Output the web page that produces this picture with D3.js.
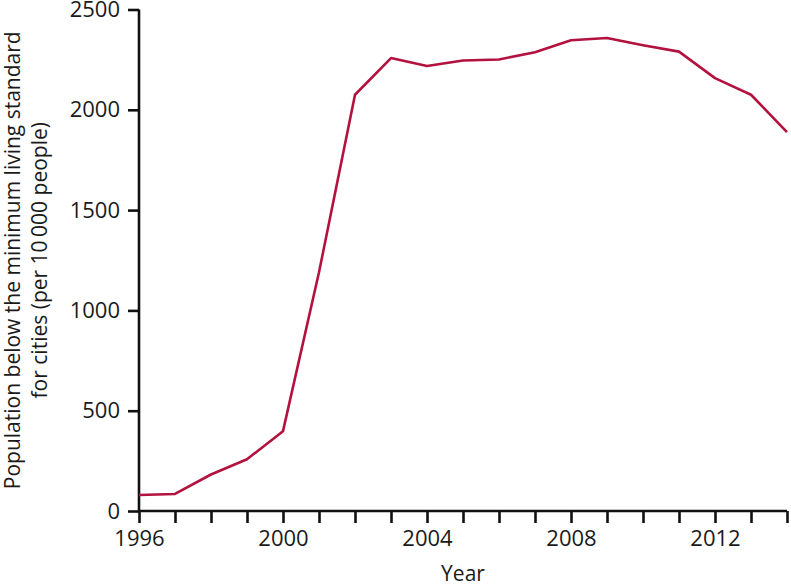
<!DOCTYPE html>
<html>
<head>
<meta charset="utf-8">
<script src="https://cdn.jsdelivr.net/npm/d3@7"></script>
<style>
  body { margin: 0; background: #fff; }
  text { font-family: "Open Sans", "Noto Sans", sans-serif; fill: #1a1a1a; }
</style>
</head>
<body>
<div id="chart"></div>
<script>
// Data
var years = [1996, 1997, 1998, 1999, 2000, 2001, 2002, 2003, 2004, 2005,
             2006, 2007, 2008, 2009, 2010, 2011, 2012, 2013, 2014];
var population = [80, 85, 182, 258, 398, 1190, 2075, 2258, 2218, 2246,
                  2251, 2287, 2347, 2358, 2322, 2290, 2158, 2075, 1889];
var yTicks = [0, 500, 1000, 1500, 2000, 2500];
var xLabelYears = [1996, 2000, 2004, 2008, 2012];
var yTitle = ["Population below the minimum living standard",
              "for cities (per 10\u2009000 people)"];
var xTitle = "Year";

var width = 791, height = 585;
var margin = { top: 9.5, right: 4, bottom: 74, left: 139 };

var svg = d3.select("#chart").append("svg")
  .attr("width", width)
  .attr("height", height);

var x = d3.scaleLinear()
  .domain([1996, 2014])
  .range([margin.left, width - margin.right]);

var y = d3.scaleLinear()
  .domain([0, 2500])
  .range([height - margin.bottom, margin.top]);

// x axis: a tick every year, labels every four years
var xAxis = svg.append("g")
  .attr("transform", "translate(0," + y(0) + ")")
  .call(d3.axisBottom(x)
    .tickValues(years)
    .tickSize(12)
    .tickPadding(7)
    .tickFormat(function(d) { return xLabelYears.indexOf(d) >= 0 ? d3.format("d")(d) : ""; }));

var yAxis = svg.append("g")
  .attr("transform", "translate(" + x(1996) + ",0)")
  .call(d3.axisLeft(y)
    .tickValues(yTicks)
    .tickSize(11)
    .tickPadding(8)
    .tickFormat(d3.format("d")));

[xAxis, yAxis].forEach(function(ax) {
  ax.select(".domain").attr("stroke", "#111").attr("stroke-width", 2.6);
  ax.selectAll(".tick line").attr("stroke", "#111").attr("stroke-width", 2.6);
  ax.selectAll(".tick text")
    .style("font-size", "22px")
    .attr("fill", "#1a1a1a")
    .style("font-family", "'Open Sans', 'Noto Sans', sans-serif");
});
// drop the outer ticks so the domain lines end cleanly
xAxis.select(".domain").attr("d", "M" + x(1996) + ",0H" + x(2014));
yAxis.select(".domain").attr("d", "M0," + y(0) + "V" + y(2500));

// Data line
var line = d3.line()
  .x(function(d, i) { return x(years[i]); })
  .y(function(d) { return y(d); });

svg.append("path")
  .datum(population)
  .attr("fill", "none")
  .attr("stroke", "#b3123f")
  .attr("stroke-width", 2.6)
  .attr("stroke-linejoin", "round")
  .attr("d", line);

// Axis titles
svg.append("text")
  .attr("x", (x(1996) + x(2014)) / 2)
  .attr("y", 581)
  .attr("text-anchor", "middle")
  .style("font-size", "21px")
  .text(xTitle);

var yt = svg.append("text")
  .attr("transform", "translate(0," + (y(0) + y(2500)) / 2 + ") rotate(-90)")
  .attr("text-anchor", "middle")
  .style("font-size", "21px");

yt.selectAll("tspan")
  .data(yTitle)
  .enter().append("tspan")
    .attr("x", 0)
    .attr("y", function(d, i) { return 20 + i * 27; })
    .text(function(d) { return d; });
</script>
</body>
</html>
